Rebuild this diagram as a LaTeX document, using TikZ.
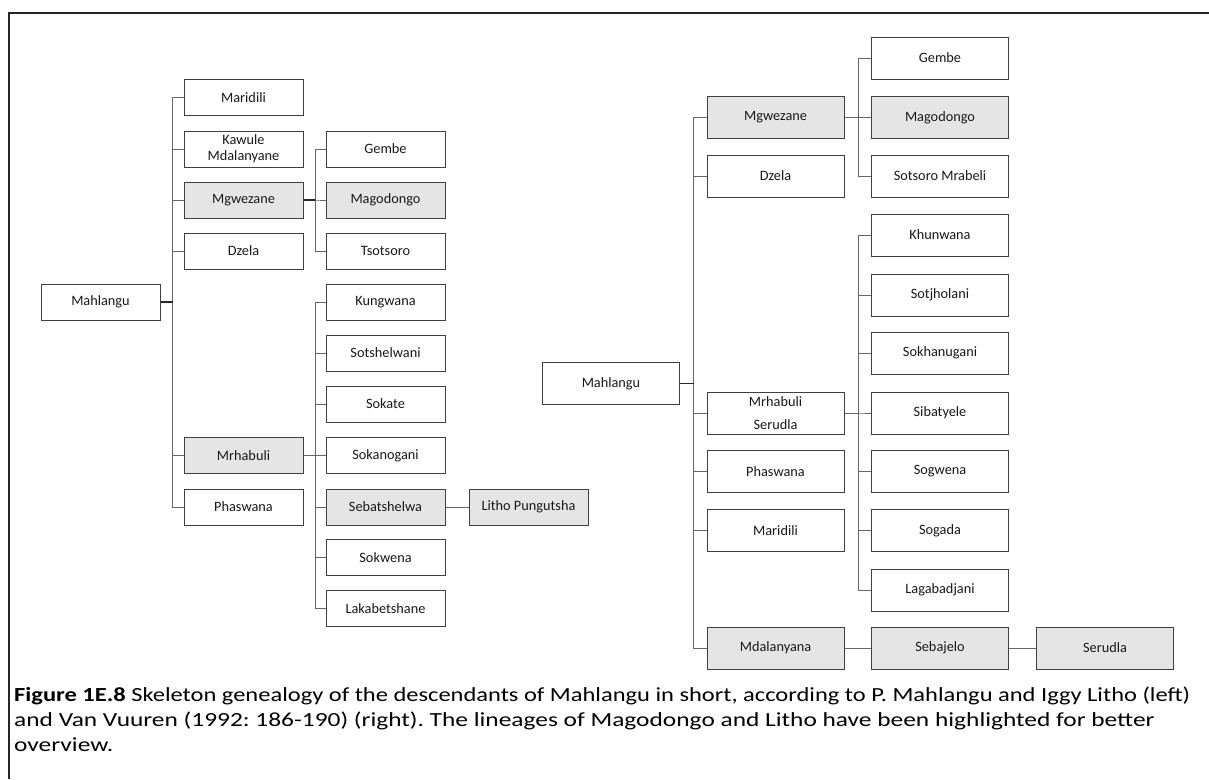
\documentclass[tikz,border=0pt]{standalone}
\usepackage{graphicx}
\usepackage{fontspec}
\setmainfont{Carlito}
\newfontfamily\capfont[FakeStretch=1.27]{Carlito}
\frenchspacing
\begin{document}
\begin{tikzpicture}[x=1pt,y=-1pt,
  box/.style={draw=black!75, line width=1pt, fill=white, minimum width=119pt, minimum height=36pt,
    inner sep=0pt, font=\fontsize{14.3}{16}\selectfont, text=black!90, align=center},
  hl/.style={fill=black!10},
  rbox/.style={box, minimum width=137pt, minimum height=42pt},
  link/.style={draw=black!60, line width=1pt},
  stub/.style={draw=black!85, line width=1.4pt},
  captext/.style={anchor=base west, inner sep=0pt, font=\capfont\fontsize{20}{25}\selectfont, text=black}]
\useasboundingbox (0,0) rectangle (1209,779);
% frame
\draw[line width=2pt, black!85] (1209,13) -- (9,13) -- (9,779);

% ---------- left tree ----------
\node[box] (lmah) at (100.5,302) {Mahlangu};
\node[box] (lmar) at (243.5,97.5) {Maridili};
\node[box] (lkaw) at (243.5,149) {Kawule\\Mdalanyane};
\node[box,hl] (lmgw) at (243.5,200) {Mgwezane};
\node[box] (ldze) at (243.5,251) {Dzela};
\node[box,hl] (lmrh) at (243.5,455.5) {Mrhabuli};
\node[box] (lpha) at (243.5,507) {Phaswana};

\node[box] (lgem) at (385.5,149) {Gembe};
\node[box,hl] (lmag) at (385.5,200) {Magodongo};
\node[box] (ltso) at (385.5,251) {Tsotsoro};

\node[box] (lkun) at (385.5,302) {Kungwana};
\node[box] (lsot) at (385.5,353) {Sotshelwani};
\node[box] (lsok) at (385.5,404) {Sokate};
\node[box] (lsko) at (385.5,455.5) {Sokanogani};
\node[box,hl] (lseb) at (385.5,507) {Sebatshelwa};
\node[box] (lskw) at (385.5,557.5) {Sokwena};
\node[box] (llak) at (385.5,608.5) {Lakabetshane};
\node[box,hl] (llit) at (528.5,507) {Litho Pungutsha};

\foreach \c in {lmar,lkaw,lmgw,ldze,lmrh,lpha}
  \draw[link] (lmah.east) -- ++(12,0) |- (\c.west);
\draw[stub] (lmah.east) -- ++(12,0);
\foreach \c in {lgem,lmag,ltso}
  \draw[link] (lmgw.east) -- ++(11.5,0) |- (\c.west);
\draw[stub] (lmgw.east) -- ++(11.5,0);
\foreach \c in {lkun,lsot,lsok,lsko,lseb,lskw,llak}
  \draw[link] (lmrh.east) -- ++(11.5,0) |- (\c.west);
\draw[link] (lseb.east) -- (llit.west);

% ---------- right tree ----------
\node[rbox] (rmah) at (611,383.5) {Mahlangu};
\node[rbox,hl] (rmgw) at (775.5,117.5) {Mgwezane};
\node[rbox] (rdze) at (775.5,176) {Dzela};
\node[rbox, font=\fontsize{14.3}{23}\selectfont] (rmrh) at (775.5,413) {Mrhabuli\\Serudla};
\node[rbox] (rpha) at (775.5,471.5) {Phaswana};
\node[rbox] (rmar) at (775.5,530.5) {Maridili};
\node[rbox,hl] (rmda) at (775.5,648) {Mdalanyana};

\node[rbox] (rgem) at (940,58) {Gembe};
\node[rbox,hl] (rmag) at (940,117.5) {Magodongo};
\node[rbox] (rsmr) at (940,176) {Sotsoro Mrabeli};
\node[rbox] (rkhu) at (940,235) {Khunwana};
\node[rbox] (rsoj) at (940,295) {Sotjholani};
\node[rbox] (rskh) at (940,353) {Sokhanugani};
\node[rbox] (rsib) at (940,413) {Sibatyele};
\node[rbox] (rsog) at (940,471.5) {Sogwena};
\node[rbox] (rsga) at (940,530.5) {Sogada};
\node[rbox] (rlag) at (940,590) {Lagabadjani};
\node[rbox,hl] (rseb) at (940,648) {Sebajelo};
\node[rbox,hl] (rser) at (1105,648) {Serudla};

\foreach \c in {rmgw,rdze,rmrh,rpha,rmar,rmda}
  \draw[link] (rmah.east) -- ++(13.5,0) |- (\c.west);
\draw[stub] (rmah.east) -- ++(13.5,0);
\foreach \c in {rgem,rmag,rsmr}
  \draw[link] (rmgw.east) -- ++(14,0) |- (\c.west);
\foreach \c in {rkhu,rsoj,rskh,rsib,rsog,rsga,rlag}
  \draw[link] (rmrh.east) -- ++(14,0) |- (\c.west);
\draw[link] (rmda.east) -- (rseb.west);
\draw[link] (rseb.east) -- (rser.west);

% ---------- caption ----------
\node[captext] (c1) at (14,701) {\resizebox{1176pt}{\height}{\textbf{Figure 1E.8} Skeleton genealogy of the descendants of Mahlangu in short, according to P. Mahlangu and Iggy Litho (left)}};
\node[captext] (c2) at (14,726) {and Van Vuuren (1992: 186-190) (right). The lineages of Magodongo and Litho have been highlighted for better};
\node[captext] (c3) at (14,751) {overview.};
\end{tikzpicture}
\end{document}
